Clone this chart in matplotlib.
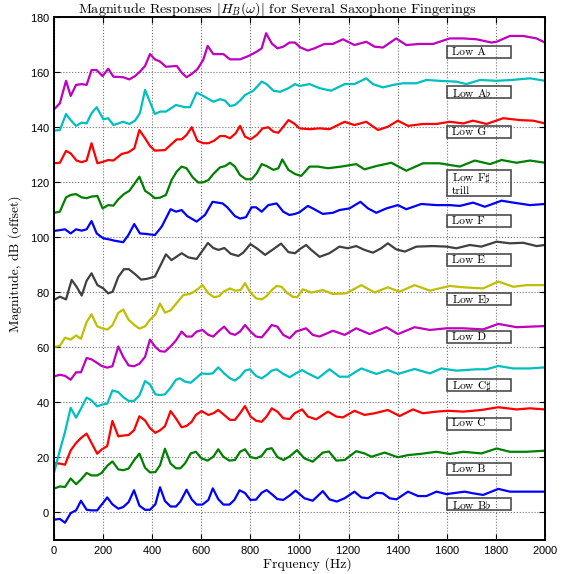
import matplotlib
matplotlib.use('Agg')
from matplotlib import pyplot as plt
from matplotlib.patches import Rectangle

# magnitude response data, (frequency Hz, dB incl. offset)

low_bflat = [(0, -2.8), (24, -2.5), (45, -3.9), (68, -0.4), (90, 0.6), (110, 4.1), (133, 0.8), (153, 0.6),
             (176, 0.6), (217, 5.3), (238, 2.8), (262, 1.2), (282, 1.8), (304, 3.6), (326, 7.9), (348, 2.3),
             (371, 0.8), (391, 0.8), (413, 2.8), (432, 9.0), (452, 4.0), (475, 2.0), (497, 2.0), (515, 3.8),
             (540, 8.1), (561, 4.6), (581, 2.7), (605, 2.7), (629, 4.4), (647, 8.6), (669, 4.7), (690, 2.7),
             (715, 2.7), (735, 4.4), (756, 7.9), (778, 6.9), (800, 4.4), (823, 4.5), (846, 7.0), (866, 8.0),
             (887, 6.5), (910, 4.7), (934, 4.4), (960, 6.0), (984, 7.8), (1020, 5.0), (1054, 4.1), (1095, 7.6),
             (1122, 4.6), (1152, 3.8), (1184, 5.0), (1224, 7.4), (1252, 5.3), (1279, 5.0), (1313, 7.0),
             (1340, 6.8), (1367, 5.0), (1395, 4.6), (1442, 7.4), (1483, 5.8), (1517, 5.8), (1558, 7.4),
             (1599, 6.5), (1639, 7.0), (1673, 7.4), (1707, 6.8), (1748, 6.2), (1810, 8.4), (1857, 7.4),
             (1911, 7.4), (2000, 7.4)]

low_b = [(0, 8.5), (24, 9.3), (45, 9.1), (68, 12.2), (90, 10.1), (110, 11.8), (133, 14.2), (153, 13.3),
         (176, 13.3), (194, 14.2), (217, 16.8), (238, 18.4), (262, 15.5), (282, 15.2), (304, 15.8), (326, 18.8),
         (348, 21.2), (371, 16.1), (391, 14.4), (413, 14.5), (432, 17.0), (452, 23.0), (475, 17.6), (497, 15.9),
         (515, 15.9), (534, 17.7), (557, 21.3), (578, 21.9), (601, 19.5), (626, 18.7), (649, 20.1), (669, 22.8),
         (690, 20.1), (714, 18.7), (737, 18.9), (758, 21.9), (778, 22.8), (800, 20.0), (823, 19.5), (846, 20.4),
         (866, 22.8), (887, 23.2), (910, 20.0), (934, 18.9), (960, 20.2), (990, 22.5), (1020, 19.5),
         (1054, 18.3), (1095, 21.6), (1120, 22.0), (1150, 18.7), (1184, 18.9), (1231, 22.1), (1265, 21.3),
         (1293, 20.1), (1347, 21.6), (1401, 19.9), (1442, 20.7), (1490, 21.1), (1558, 21.9), (1612, 21.1),
         (1667, 21.9), (1741, 21.3), (1803, 23.1), (1857, 21.9), (1925, 21.9), (2000, 22.3)]

low_c = [(0, 17.8), (24, 17.6), (45, 17.2), (68, 22.4), (90, 25.1), (110, 26.9), (133, 28.5), (153, 25.1),
         (176, 21.2), (194, 22.7), (217, 24.0), (238, 33.1), (262, 27.5), (282, 27.8), (304, 28.0), (326, 29.7),
         (348, 34.8), (371, 33.3), (391, 30.5), (413, 28.8), (432, 29.7), (452, 31.2), (475, 36.7), (497, 34.0),
         (520, 30.8), (540, 31.3), (561, 32.8), (578, 35.3), (601, 36.7), (629, 35.3), (649, 35.9), (669, 37.1),
         (693, 35.3), (717, 33.5), (737, 33.5), (758, 35.9), (778, 38.5), (801, 34.7), (823, 33.2), (846, 32.8),
         (866, 34.7), (887, 37.7), (910, 36.5), (934, 34.1), (960, 33.8), (980, 35.9), (1011, 37.3),
         (1034, 34.7), (1068, 33.7), (1116, 36.5), (1150, 34.7), (1177, 34.4), (1224, 36.8), (1265, 35.3),
         (1306, 35.9), (1360, 37.1), (1408, 34.9), (1462, 37.3), (1503, 35.9), (1558, 36.5), (1605, 36.8),
         (1667, 36.5), (1741, 37.1), (1810, 38.1), (1884, 37.3), (1939, 37.7), (2000, 37.3)]

low_csharp = [(0, 14.2), (24, 22.4), (45, 29.1), (68, 37.9), (90, 34.3), (110, 37.6), (133, 41.6), (153, 40.6),
              (176, 38.4), (194, 39.0), (217, 39.4), (238, 44.2), (262, 43.6), (282, 41.8), (304, 40.4),
              (326, 40.4), (348, 42.4), (371, 47.6), (391, 46.4), (413, 42.8), (432, 42.5), (452, 42.8),
              (475, 45.2), (497, 48.1), (513, 48.6), (534, 47.4), (557, 47.0), (578, 48.6), (601, 50.4),
              (625, 50.2), (646, 50.4), (669, 52.6), (693, 50.4), (717, 48.6), (737, 47.8), (758, 49.2),
              (778, 51.4), (798, 51.9), (823, 49.5), (846, 48.6), (866, 49.8), (887, 51.4), (907, 51.9),
              (934, 50.2), (960, 49.0), (985, 50.4), (1011, 51.6), (1034, 50.4), (1075, 48.6), (1122, 51.9),
              (1163, 49.2), (1197, 49.2), (1252, 52.2), (1313, 50.2), (1360, 51.6), (1401, 50.2), (1469, 52.0),
              (1531, 50.4), (1578, 52.2), (1639, 51.4), (1721, 51.9), (1762, 51.9), (1810, 53.1), (1871, 52.2),
              (1939, 52.2), (2000, 52.6)]

low_d = [(0, 49.3), (24, 49.9), (45, 49.5), (68, 48.1), (90, 50.8), (110, 50.8), (133, 56.0), (153, 55.5),
         (176, 54.2), (194, 53.1), (217, 52.5), (238, 53.0), (262, 60.2), (282, 56.4), (304, 53.3), (326, 53.0),
         (348, 53.9), (371, 56.4), (391, 62.7), (413, 60.0), (432, 58.5), (452, 58.3), (475, 60.2), (497, 62.4),
         (520, 65.6), (540, 63.8), (561, 63.8), (581, 65.6), (605, 66.2), (629, 64.4), (649, 63.8), (669, 65.6),
         (693, 67.4), (717, 65.0), (737, 64.4), (758, 65.6), (778, 68.0), (801, 65.6), (823, 63.8), (846, 63.5),
         (866, 65.6), (887, 68.0), (910, 67.4), (934, 64.4), (960, 63.2), (986, 65.6), (1027, 66.8),
         (1054, 64.4), (1082, 63.8), (1136, 65.9), (1184, 64.4), (1231, 66.8), (1286, 64.7), (1354, 67.2),
         (1401, 64.7), (1469, 67.2), (1531, 66.2), (1599, 66.8), (1667, 66.8), (1748, 66.4), (1810, 68.4),
         (1884, 67.2), (1939, 67.4), (2000, 67.6)]

low_eflat = [(0, 60.0), (24, 60.4), (45, 63.4), (68, 62.7), (90, 64.2), (110, 63.0), (133, 69.1), (153, 71.9),
             (176, 67.5), (194, 66.9), (217, 66.3), (238, 67.9), (262, 72.4), (282, 73.6), (304, 69.9),
             (326, 68.1), (348, 66.7), (371, 67.5), (391, 69.9), (413, 71.8), (432, 75.8), (452, 72.5),
             (475, 73.3), (500, 76.0), (527, 78.9), (554, 79.3), (578, 80.5), (605, 82.5), (629, 79.5),
             (652, 78.1), (673, 78.5), (690, 80.1), (717, 81.3), (737, 80.5), (760, 80.7), (778, 83.2),
             (798, 80.1), (823, 77.7), (846, 77.3), (866, 78.5), (887, 80.7), (907, 82.2), (927, 81.9),
             (948, 79.8), (972, 78.3), (990, 78.1), (1014, 81.0), (1048, 79.8), (1095, 80.7), (1136, 79.3),
             (1190, 79.5), (1252, 82.5), (1306, 79.8), (1360, 81.7), (1408, 80.1), (1469, 82.5), (1531, 80.5),
             (1612, 82.2), (1667, 81.7), (1748, 81.3), (1810, 83.8), (1871, 81.9), (1925, 82.5), (2000, 82.5)]

low_e = [(0, 77.1), (24, 78.3), (49, 77.3), (72, 84.4), (92, 81.9), (113, 78.7), (133, 84.1), (153, 86.8),
         (177, 82.5), (201, 81.3), (221, 79.5), (239, 80.1), (262, 85.5), (285, 88.3), (305, 88.3), (330, 86.5),
         (355, 84.5), (380, 84.8), (411, 85.6), (430, 89.0), (456, 93.7), (479, 91.6), (520, 94.1), (547, 92.6),
         (581, 92.0), (627, 97.8), (649, 96.0), (670, 95.3), (694, 96.0), (720, 93.9), (751, 93.1), (772, 94.4),
         (800, 97.4), (826, 95.9), (860, 93.5), (894, 95.6), (925, 97.6), (955, 94.5), (982, 94.1),
         (1000, 95.5), (1027, 97.1), (1048, 95.3), (1082, 92.8), (1122, 94.1), (1163, 96.5), (1197, 95.9),
         (1231, 96.7), (1265, 95.3), (1299, 94.3), (1333, 95.9), (1360, 97.7), (1394, 95.5), (1429, 94.7),
         (1476, 96.5), (1544, 96.7), (1599, 96.5), (1639, 95.9), (1694, 97.1), (1741, 96.5), (1803, 98.3),
         (1857, 97.7), (1911, 97.9), (1966, 96.7), (2000, 97.1)]

low_f = [(0, 102.2), (24, 102.5), (45, 102.8), (68, 101.3), (90, 102.8), (113, 102.3), (133, 102.8),
         (153, 105.8), (174, 101.3), (201, 99.5), (221, 99.2), (244, 98.7), (282, 98.1), (303, 100.7),
         (327, 104.7), (350, 101.3), (377, 101.1), (411, 100.7), (439, 103.8), (475, 110.1), (497, 109.2),
         (520, 109.8), (543, 107.6), (581, 105.6), (615, 108.0), (646, 112.8), (687, 112.2), (706, 110.8),
         (737, 107.6), (758, 106.7), (782, 107.2), (805, 110.8), (823, 110.8), (846, 109.2), (873, 111.6),
         (907, 112.2), (934, 109.2), (959, 108.0), (982, 108.4), (1000, 109.0), (1034, 111.3), (1054, 110.4),
         (1095, 108.4), (1136, 108.8), (1163, 109.8), (1204, 110.4), (1248, 112.8), (1279, 110.4),
         (1313, 108.8), (1354, 110.4), (1401, 111.6), (1435, 110.1), (1496, 112.0), (1558, 111.6),
         (1612, 111.6), (1653, 111.3), (1707, 112.5), (1755, 111.0), (1823, 113.2), (1871, 112.5),
         (1939, 111.6), (2000, 112.0)]

low_fsharp_trill = [(0, 108.8), (24, 109.2), (49, 114.4), (68, 115.3), (90, 115.6), (113, 114.4), (133, 114.1),
                    (153, 114.7), (177, 114.9), (198, 110.4), (221, 111.6), (242, 111.4), (262, 113.7),
                    (285, 115.6), (307, 116.8), (327, 119.3), (348, 121.9), (371, 116.8), (391, 115.6),
                    (411, 114.1), (432, 114.3), (456, 115.3), (479, 120.7), (500, 123.8), (520, 125.6),
                    (540, 125.0), (565, 121.7), (588, 119.8), (608, 119.9), (629, 120.7), (649, 122.9),
                    (676, 125.3), (697, 125.8), (717, 127.0), (737, 125.6), (758, 122.5), (782, 121.0),
                    (805, 121.0), (826, 123.2), (846, 126.5), (866, 125.8), (894, 124.4), (914, 125.0),
                    (930, 128.2), (955, 124.4), (982, 122.9), (1007, 122.2), (1041, 125.6), (1075, 125.6),
                    (1116, 125.0), (1170, 125.6), (1231, 126.5), (1265, 124.6), (1313, 125.8), (1374, 127.0),
                    (1435, 124.1), (1503, 126.8), (1571, 126.8), (1653, 125.6), (1714, 127.8), (1776, 126.5),
                    (1823, 128.0), (1884, 127.0), (1939, 127.8), (2000, 127.0)]

low_g = [(0, 126.8), (24, 127.0), (49, 131.3), (68, 130.4), (92, 127.8), (113, 127.2), (133, 127.8),
         (153, 134.1), (177, 126.8), (201, 127.4), (221, 128.0), (242, 127.8), (276, 130.2), (303, 130.8),
         (327, 132.2), (348, 138.9), (371, 135.9), (391, 133.1), (411, 131.4), (452, 131.6), (479, 133.8),
         (500, 135.5), (520, 135.5), (540, 137.1), (561, 139.9), (584, 135.0), (608, 134.1), (629, 134.1),
         (652, 135.0), (676, 136.7), (697, 136.7), (717, 135.9), (740, 137.7), (758, 140.4), (778, 136.5),
         (801, 135.5), (826, 137.1), (850, 139.5), (873, 139.9), (894, 138.3), (914, 137.9), (934, 140.1),
         (955, 142.5), (978, 141.3), (1000, 139.5), (1041, 139.2), (1082, 139.5), (1122, 139.2),
         (1184, 141.9), (1224, 140.7), (1272, 141.9), (1320, 138.9), (1360, 140.1), (1401, 142.3),
         (1442, 140.4), (1503, 141.1), (1558, 141.1), (1612, 141.9), (1667, 141.3), (1707, 142.3),
         (1762, 141.1), (1830, 143.2), (1898, 142.5), (1952, 142.3), (2000, 141.3)]

low_aflat = [(0, 138.7), (24, 138.9), (49, 144.7), (68, 142.5), (90, 140.4), (113, 141.6), (133, 141.3),
             (153, 145.0), (174, 147.2), (201, 142.8), (221, 143.2), (242, 140.7), (282, 141.9), (307, 141.1),
             (330, 142.3), (350, 145.0), (371, 153.5), (411, 144.7), (432, 145.6), (456, 145.6), (497, 148.0),
             (534, 147.2), (554, 147.2), (581, 152.5), (608, 151.3), (649, 149.2), (676, 150.1), (697, 149.6),
             (717, 147.6), (737, 148.0), (758, 149.6), (778, 151.6), (812, 153.2), (846, 156.5), (866, 155.6),
             (894, 153.2), (921, 152.8), (955, 154.1), (982, 155.6), (1000, 154.9), (1041, 155.6),
             (1082, 154.1), (1129, 153.2), (1184, 155.6), (1224, 155.6), (1272, 157.7), (1299, 155.6),
             (1340, 154.4), (1381, 155.3), (1422, 155.9), (1476, 155.9), (1517, 157.1), (1585, 156.7),
             (1639, 156.5), (1680, 155.6), (1735, 157.1), (1803, 156.8), (1864, 157.1), (1939, 157.7),
             (2000, 156.8)]

low_a = [(0, 146.4), (24, 148.6), (49, 156.8), (68, 151.3), (90, 155.3), (113, 155.6), (133, 155.3),
         (153, 160.7), (174, 160.7), (198, 158.5), (221, 161.2), (242, 158.3), (282, 158.1), (307, 157.3),
         (330, 158.5), (350, 160.1), (371, 162.2), (391, 166.5), (411, 164.6), (432, 163.8), (456, 161.9),
         (500, 162.2), (520, 159.8), (540, 158.1), (561, 159.3), (584, 161.0), (608, 164.4), (626, 169.5),
         (649, 166.5), (690, 166.5), (717, 164.6), (758, 164.6), (792, 165.8), (826, 167.4), (846, 168.6),
         (864, 174.1), (887, 170.4), (910, 168.6), (934, 169.2), (959, 170.7), (982, 170.7), (1002, 169.0),
         (1034, 167.8), (1061, 168.6), (1102, 170.2), (1136, 170.2), (1177, 171.9), (1224, 169.8),
         (1272, 171.0), (1306, 169.2), (1340, 168.9), (1394, 172.2), (1435, 169.8), (1490, 170.2),
         (1544, 170.2), (1612, 172.2), (1667, 172.2), (1721, 171.9), (1782, 170.7), (1803, 171.0),
         (1857, 173.1), (1911, 173.1), (1966, 172.2), (2000, 170.7)]

# bottom to top
series = [low_bflat, low_b, low_c, low_csharp, low_d, low_eflat,
          low_e, low_f, low_fsharp_trill, low_g, low_aflat, low_a]
names = ['Low B$\\flat$', 'Low B', 'Low C', 'Low C$\\sharp$', 'Low D', 'Low E$\\flat$',
         'Low E', 'Low F', 'Low F$\\sharp$\ntrill', 'Low G', 'Low A$\\flat$', 'Low A']

# matlab style colours
colors = ['b', 'g', 'r', 'c', 'm', 'y', '#404040', 'b', 'g', 'r', 'c', 'm']

# where the name boxes sit (centre in dB)
box_y = [2.9, 15.7, 32.1, 46.1, 63.6, 77.5, 91.7, 105.8, 119.7, 138.2, 152.7, 167.3]

xticks = list(range(0, 2001, 200))
yticks = list(range(0, 181, 20))

plt.rcParams['mathtext.fontset'] = 'cm'
plt.rcParams['axes.formatter.use_mathtext'] = True
serif = 'cmr10'

fig = plt.figure(figsize=(5.64, 5.74), dpi=100)
ax = fig.add_axes([0.0957, 0.0601, 0.8706, 0.9103])

for data, col in zip(series, colors):
    f = [p[0] for p in data]
    v = [p[1] for p in data]
    ax.plot(f, v, color=col, linewidth=1.6)

# name boxes
for name, yc in zip(names, box_y):
    h = 9.4 if '\n' in name else 4.5
    ax.add_patch(Rectangle((1600, yc - h / 2), 260, h, fill=False,
                           edgecolor='0.3', linewidth=1.2, zorder=3))
    ax.text(1622, yc, name, family=serif, fontsize=8.3, va='center', ha='left',
            linespacing=1.2, zorder=4)

ax.set_xlim(0, 2000)
ax.set_ylim(-10, 180)
ax.set_xticks(xticks)
ax.set_yticks(yticks)
ax.grid(True, linestyle=':', color='0.45', linewidth=0.8)
ax.tick_params(direction='in', length=4, width=0.8, top=True, right=True,
               labelsize=8, pad=3)
for lab in ax.get_xticklabels() + ax.get_yticklabels():
    lab.set_fontfamily('Liberation Sans')
for sp in ax.spines.values():
    sp.set_linewidth(1.4)

ax.set_title('Magnitude Responses $|H_B(\\omega)|$ for Several Saxophone Fingerings',
             family=serif, fontsize=10.2, pad=3, x=0.455)
ax.set_xlabel('Frquency (Hz)', family=serif, fontsize=10, va='center')
ax.xaxis.set_label_coords(0.517, -0.047)
ax.set_ylabel('Magnitude, dB (offset)', family=serif, fontsize=9.8, labelpad=5)
ax.yaxis.set_label_coords(-0.066, 0.527)

fig.savefig('out.png', dpi=100)
plt.close()
